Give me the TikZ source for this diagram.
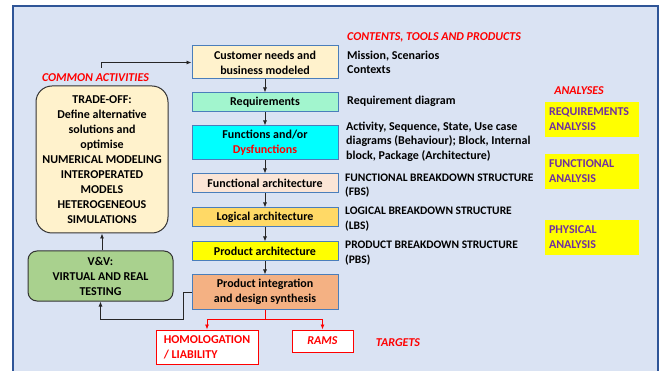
\documentclass[tikz,border=0pt]{standalone}
\usepackage{fontspec}
\setmainfont{Carlito}
\usetikzlibrary{arrows.meta}
\definecolor{fundo}{HTML}{DAE3F3}
\definecolor{bordafundo}{HTML}{2F5597}
\definecolor{bordacaixa}{HTML}{4A7EBB}
\definecolor{creme}{HTML}{FFF2CC}
\definecolor{menta}{HTML}{A2F5CE}
\definecolor{ciano}{HTML}{00FFFF}
\definecolor{pessego}{HTML}{FBE5D6}
\definecolor{ouro}{HTML}{FFD966}
\definecolor{amarelo}{HTML}{FFFF00}
\definecolor{laranja}{HTML}{F4B183}
\definecolor{verde}{HTML}{A9D18E}
\definecolor{roxo}{HTML}{7030A0}
\definecolor{vermelho}{HTML}{FF0000}

\begin{document}
\begin{tikzpicture}[x=1pt,y=-1pt,
  caixa/.style={draw=bordacaixa,line width=1pt,minimum width=146pt,inner sep=0pt,
    align=center,font=\bfseries\fontsize{12}{15}\selectfont},
  lateral/.style={draw=black!80,line width=1pt,inner sep=0pt,align=center,
    font=\bfseries\fontsize{12}{15}\selectfont},
  alvo/.style={draw=vermelho,fill=white,line width=1pt,inner sep=0pt,
    text=vermelho,font=\bfseries\fontsize{12}{15}\selectfont},
  titulo/.style={text=vermelho,font=\bfseries\itshape\fontsize{12}{15}\selectfont},
  texto/.style={anchor=west,inner sep=0pt,align=left,
    font=\bfseries\fontsize{12}{14.5}\selectfont},
  textocaps/.style={anchor=west,inner sep=0pt,align=left,
    font=\bfseries\fontsize{11.5}{14.5}\selectfont},
  analise/.style={fill=amarelo,text=roxo,minimum width=94pt,minimum height=35pt,
    text width=86pt,inner sep=4pt,align=left,
    font=\bfseries\fontsize{12}{15}\selectfont},
  seta/.style={-{Latex[length=5pt,width=4pt]},line width=0.8pt,black!85}]
\useasboundingbox (0,0) rectangle (661,371);

% fundo
\fill[fundo] (13,6) rectangle (658,380);
\draw[bordafundo,line width=1.5pt] (13,380) -- (13,6) -- (658,6) -- (658,380);

% coluna central
\node[caixa,fill=creme,minimum height=33pt] (cliente) at (265,62.5)
  {Customer needs and\\business modeled};
\node[caixa,fill=menta,minimum height=19pt] (requisitos) at (265,102.5)
  {Requirements};
\node[caixa,fill=ciano,minimum height=34pt] (funcoes) at (265,143)
  {Functions and/or\\\textcolor{vermelho}{Dysfunctions}};
\node[caixa,fill=pessego,minimum height=19pt] (funcional) at (265,183.5)
  {Functional architecture};
\node[caixa,fill=ouro,minimum height=19pt] (logica) at (265,217.5)
  {Logical architecture};
\node[caixa,fill=amarelo,minimum height=19pt] (produto) at (265,251.5)
  {Product architecture};
\node[caixa,fill=laranja,minimum height=34pt] (integracao) at (265,292)
  {Product integration\\and design synthesis};

\foreach \a/\b in {cliente/requisitos,requisitos/funcoes,funcoes/funcional,
    funcional/logica,logica/produto,produto/integracao} {
  \draw[seta] (\a) -- (\b);
}

% atividades comuns
\node[titulo] (comuns) at (95.5,78) {COMMON ACTIVITIES};
\node[lateral,fill=creme,rounded corners=16pt,minimum width=132pt,minimum height=147pt]
  (tradeoff) at (102,159.5)
  {TRADE-OFF:\\Define alternative\\solutions and\\optimise\\NUMERICAL MODELING\\
   INTEROPERATED\\MODELS\\HETEROGENEOUS\\SIMULATIONS};
\node[lateral,fill=verde,rounded corners=9pt,minimum width=145pt,minimum height=50pt]
  (vv) at (100.5,276) {V\&V:\\VIRTUAL AND REAL\\TESTING};

\coordinate (inicio) at (101.5,68);
\coordinate (retorno) at (183,319);
\draw[seta] (inicio) |- (cliente.west);
\draw[seta] (vv.north -| tradeoff.south) -- (tradeoff.south);
\draw[seta] (integracao.west) -| (retorno) -| (vv.south);

% alvos
\node[alvo,minimum width=102pt,minimum height=34pt,align=left] (homologacao) at (207,347)
  {HOMOLOGATION\\/ LIABILITY};
\node[alvo,minimum width=61pt,minimum height=22pt,font=\bfseries\itshape\fontsize{12}{15}\selectfont]
  (rams) at (322.5,341) {RAMS};
\node[titulo] (alvos) at (398,343) {TARGETS};
\draw[seta,vermelho] (integracao.south) -- ++(0,10) -| (homologacao.north);
\draw[seta,vermelho] (integracao.south) -- ++(0,10) -| (rams.north);

% conteudos
\node[titulo,anchor=west,inner sep=0pt] (conteudos) at (347,37) {CONTENTS, TOOLS AND PRODUCTS};
\node[texto] (missao) at (347,62.5) {Mission, Scenarios\\Contexts};
\node[texto] (diagrama) at (347,101) {Requirement diagram};
\node[texto] (atividade) at (346,141.5)
  {Activity, Sequence, State, Use case\\diagrams (Behaviour); Block, Internal\\block, Package (Architecture)};
\node[textocaps] (fbs) at (345,185.5) {FUNCTIONAL BREAKDOWN STRUCTURE\\(FBS)};
\node[textocaps] (lbs) at (345,219) {LOGICAL BREAKDOWN STRUCTURE\\(LBS)};
\node[textocaps] (pbs) at (345,253) {PRODUCT BREAKDOWN STRUCTURE\\(PBS)};

% analises
\node[titulo] (analises) at (579,91) {ANALYSES};
\node[analise] (reqanalise) at (592,119.5) {REQUIREMENTS\\ANALYSIS};
\node[analise] (funcanalise) at (592,171.5) {FUNCTIONAL\\ANALYSIS};
\node[analise] (fisanalise) at (592,237.5) {PHYSICAL\\ANALYSIS};
\end{tikzpicture}
\end{document}
